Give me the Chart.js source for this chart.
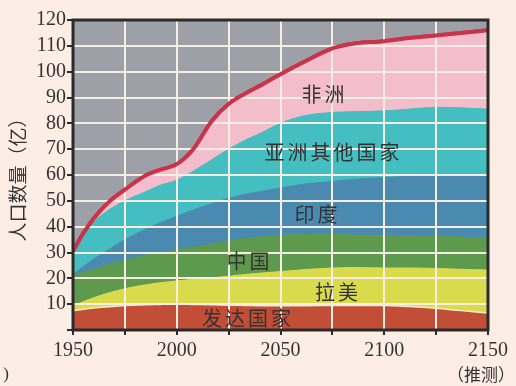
<!DOCTYPE html>
<html><head><meta charset="utf-8">
<script src="https://cdn.jsdelivr.net/npm/chart.js@4/dist/chart.umd.min.js"></script>
<style>html,body{margin:0;padding:0;background:#fdeee5;}canvas{display:block;}</style>
</head><body>
<canvas id="c" width="516" height="386"></canvas>
<script>
// ---- data (人口, 亿) ----
const years        = [1950,1955,1960,1967,1975,1985,1992,2000,2008,2017,2025,2033,2040,2050,2062,2075,2085,2100,2112,2125,2137,2150];
const developed    = [7.4, 8.0, 8.5, 9.0, 9.5, 9.8, 9.9,10.0, 9.9, 9.8, 9.6, 9.5, 9.4, 9.4, 9.4, 9.5, 9.5, 9.5, 9.1, 8.4, 7.5, 6.6];
const latinAmerica = [1.9, 3.0, 4.0, 5.3, 6.5, 7.7, 8.4, 9.0, 9.7,10.4,11.2,12.0,12.6,13.2,14.0,14.5,14.7,14.5,14.9,15.4,16.0,16.6];
const china        = [11.7,11.3,11.0,10.9,11.0,11.3,11.7,12.0,12.4,13.1,13.7,14.0,14.0,14.0,13.6,13.0,12.6,12.5,12.3,12.4,12.5,12.3];
const india        = [0.5, 2.2, 4.0, 5.8, 8.0,10.2,11.5,13.0,14.5,15.7,16.5,17.0,17.5,18.4,19.5,20.5,21.5,22.5,23.2,23.8,24.0,24.5];
const otherAsia    = [8.3,12.0,14.3,15.3,15.0,14.5,14.5,14.0,15.0,17.0,19.0,21.0,22.5,25.0,26.5,26.7,26.2,25.8,26.0,26.2,26.0,25.5];
const africa       = [0.7, 1.0, 1.4, 3.0, 4.3, 6.3, 6.0, 6.2, 8.5,15.0,17.5,18.0,18.5,19.0,21.0,24.8,26.3,27.0,27.5,27.8,29.0,30.5];
const regionNames  = ['发达国家','拉美','中国','印度','亚洲其他国家','非洲'];
const xTickLabels  = [1950,2000,2050,2100,2150];
const yTickLabels  = [10,20,30,40,50,60,70,80,90,100,110,120];

const series = [developed, latinAmerica, china, india, otherAsia, africa];
const total = years.map((_, i) => series.reduce((s, arr) => s + arr[i], 0));
const toXY = arr => arr.map((v, i) => ({x: years[i], y: v}));

const fills = ['#c24e38','#dadb4c','#5d9a4d','#4a8ab0','#44bec0','#f3bdcb'];

const datasets = series.map((arr, i) => ({
  label: regionNames[i],
  data: toXY(arr),
  stack: 'regions',
  backgroundColor: fills[i],
  borderColor: i === 0 ? '#f4eec6' : fills[i],
  borderWidth: i === 0 ? 1.5 : 1,
  fill: i === 0 ? 'origin' : '-1',
  pointRadius: 0,
  cubicInterpolationMode: 'monotone'
}));
datasets.push({
  label: '总人口',
  data: toXY(total),
  stack: 'total',
  borderColor: '#c8344a',
  borderWidth: 4,
  fill: false,
  pointRadius: 0,
  cubicInterpolationMode: 'monotone'
});

// label anchor positions (year, value) — layout only
const labelAnchors = {
  '发达国家': [2033.6, 4.5],
  '拉美': [2077, 14.4],
  '中国': [2034.3, 26.7],
  '印度': [2067.1, 44.6],
  '亚洲其他国家': [2074.8, 68.7],
  '非洲': [2070.5, 91.2]
};

const decor = {
  id: 'decor',
  beforeDraw(chart) {
    const {ctx, chartArea: a} = chart;
    ctx.save();
    ctx.fillStyle = '#9ea0a8';
    ctx.fillRect(a.left, a.top, a.width, a.height);
    ctx.restore();
  },
  afterDraw(chart) {
    const {ctx, chartArea: a, scales} = chart;
    ctx.save();
    ctx.beginPath();
    ctx.rect(a.left, a.top - 4, a.width, a.height + 4);
    ctx.clip();
    chart.getDatasetMeta(6).controller.draw();
    ctx.restore();
    ctx.save();
    ctx.strokeStyle = '#2b2b2b';
    ctx.lineWidth = 3;
    ctx.strokeRect(a.left, a.top, a.width, a.height);
    ctx.restore();
    ctx.save();
    ctx.fillStyle = '#333333';
    ctx.font = '20px "Noto Sans CJK SC"';
    ctx.textAlign = 'center';
    ctx.textBaseline = 'middle';
    const pitch = 23;
    regionNames.forEach(name => {
      const [yr, v] = labelAnchors[name];
      const cx = scales.x.getPixelForValue(yr);
      const cy = scales.y.getPixelForValue(v);
      const chars = Array.from(name);
      const start = cx - (chars.length - 1) * pitch / 2;
      chars.forEach((ch, k) => ctx.fillText(ch, start + k * pitch, cy));
    });
    ctx.font = '17px "Noto Sans CJK SC"';
    ctx.fillText('（推测）', 481, 375);
    ctx.font = '17px "Liberation Serif"';
    ctx.fillText(')', 6, 375);
    ctx.restore();
  }
};

new Chart(document.getElementById('c'), {
  type: 'line',
  data: {datasets},
  options: {
    responsive: false,
    animation: false,
    devicePixelRatio: 1,
    layout: {padding: {top: 20, right: 28, bottom: 0, left: 0}},
    plugins: {legend: {display: false}, tooltip: {enabled: false}},
    scales: {
      x: {
        type: 'linear', min: 1950, max: 2150,
        afterFit: s => { s.height = 56; },
        border: {display: false},
        grid: {z: 1, color: '#f6eee2', lineWidth: 2, tickColor: '#2b2b2b', tickLength: 5, tickWidth: 2},
        ticks: {
          stepSize: 25, autoSkip: false, maxRotation: 0, padding: 4,
          color: '#333333', font: {family: '"Liberation Serif"', size: 20},
          callback: v => xTickLabels.includes(v) ? String(v) : ''
        }
      },
      y: {
        stacked: true, min: 0, max: 120,
        afterFit: s => { s.width = 73; },
        border: {display: false},
        grid: {z: 1, color: '#f6eee2', lineWidth: 2, tickColor: '#2b2b2b', tickLength: 6, tickWidth: 2},
        ticks: {
          stepSize: 10, padding: 1, autoSkip: false,
          color: '#333333', font: {family: '"Liberation Serif"', size: 20},
          callback: v => yTickLabels.includes(v) ? String(v) : ''
        },
        title: {
          display: true, text: '人口数量（亿）', color: '#333333',
          font: {family: '"Noto Sans CJK SC"', size: 19},
          padding: {top: 6, bottom: 0}
        }
      }
    }
  },
  plugins: [decor]
});
</script>
</body></html>
